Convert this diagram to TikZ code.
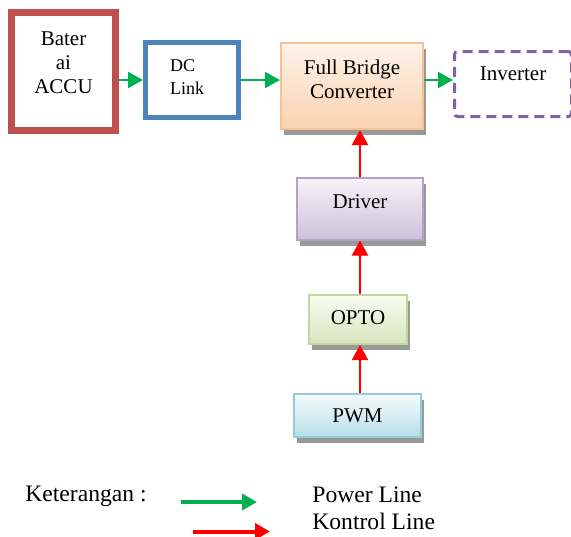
\documentclass[tikz,border=0pt]{standalone}
\usepackage{fontspec}
\setmainfont{Liberation Serif}
\usetikzlibrary{arrows.meta, positioning, shadows}

\definecolor{batred}{HTML}{C0504D}
\definecolor{dcblue}{HTML}{4F81BD}
\definecolor{invpurple}{HTML}{8064A2}
\definecolor{pgreen}{HTML}{00B050}
\definecolor{kred}{HTML}{FF0000}
\definecolor{fbctop}{HTML}{FEF3EA}
\definecolor{fbcbot}{HTML}{FAD2B0}
\definecolor{fbcline}{HTML}{FAC090}
\definecolor{drvtop}{HTML}{F6F3F9}
\definecolor{drvbot}{HTML}{CCC0DA}
\definecolor{drvline}{HTML}{B3A2C7}
\definecolor{optotop}{HTML}{F8FBF1}
\definecolor{optobot}{HTML}{D7E4BD}
\definecolor{optoline}{HTML}{C3D69B}
\definecolor{pwmtop}{HTML}{F5FBFC}
\definecolor{pwmbot}{HTML}{B7DEE8}
\definecolor{pwmline}{HTML}{93CDDD}

\begin{document}
\begin{tikzpicture}[x=0.5pt, y=-0.5pt,
    box/.style={rectangle, inner sep=0pt, align=center, font=\fontsize{10.5}{12}\selectfont},
    blok/.style={box, line width=1pt, drop shadow={shadow xshift=1.5pt, shadow yshift=-3pt, fill=black!40, opacity=1}},
    power/.style={draw=pgreen, line width=1pt, -{Triangle[length=7.5pt, width=8pt]}},
    kontrol/.style={draw=kred, line width=1pt, -{Triangle[length=7.5pt, width=8pt]}},
    legend/.style={anchor=west, inner sep=0pt, font=\fontsize{11.8}{13}\selectfont}]
    \useasboundingbox (0,0) rectangle (571,536);

    % jalur daya
    \node (bat) [box, draw=batred, line width=3.5pt, minimum width=52pt, minimum height=59pt, text depth=8.5pt] at (63.5,71.5) {Bater\\ai\\ACCU};
    \node (dc) [box, draw=dcblue, line width=2.5pt, minimum width=46.5pt, minimum height=37.5pt, text width=22pt, align=left, text depth=14.5pt, font=\fontsize{9}{11.5}\selectfont, right=12pt of bat, yshift=-4.25pt] {DC\\Link};
    \node (fbc) [blok, draw=fbcline, top color=fbctop, bottom color=fbcbot, minimum width=71pt, minimum height=43pt, text depth=7pt, right=19.5pt of dc, yshift=-3pt] {Full Bridge\\Converter};
    \node (inv) [box, draw=invpurple, line width=1.5pt, dash pattern=on 5pt off 3pt, rounded corners=1.5pt, minimum width=58.5pt, minimum height=32.5pt, text depth=10pt, right=14.5pt of fbc, yshift=1pt] {Inverter};

    % jalur kontrol
    \node (drv) [blok, draw=drvline, top color=drvtop, bottom color=drvbot, minimum width=63pt, minimum height=30.75pt, text depth=7pt, below=23.5pt of fbc, xshift=4pt] {Driver};
    \node (opto) [blok, draw=optoline, top color=optotop, bottom color=optobot, minimum width=49pt, minimum height=24.5pt, text depth=2pt, below=26.75pt of drv, xshift=-1pt] {OPTO};
    \node (pwm) [blok, draw=pwmline, top color=pwmtop, bottom color=pwmbot, minimum width=63.5pt, minimum height=21.5pt, below=24pt of opto, xshift=-0.25pt] {PWM};

    \draw[power] (bat.east |- dc) -- (dc);
    \draw[power] (dc) -- (dc -| fbc.west);
    \draw[power] (fbc.east |- dc) -- (inv.west |- dc);

    \draw[kontrol] (drv) -- (drv |- fbc.south);
    \draw[kontrol] (opto.north -| drv) -- (drv);
    \draw[kontrol] (pwm.north -| drv) -- (opto.south -| drv);

    % keterangan
    \node (ket) [legend] at (25,496) {Keterangan :};
    \coordinate (pw-a) at (181,502);
    \coordinate (pw-b) at (257,502);
    \coordinate (kt-a) at (193,531.5);
    \coordinate (kt-b) at (270,531.5);
    \draw[power, line width=2pt] (pw-a) -- (pw-b);
    \draw[kontrol, line width=2pt] (kt-a) -- (kt-b);
    \node (pw-txt) [legend] at (312,495) {Power Line};
    \node (kt-txt) [legend] at (312,521) {Kontrol Line};
\end{tikzpicture}
\end{document}
